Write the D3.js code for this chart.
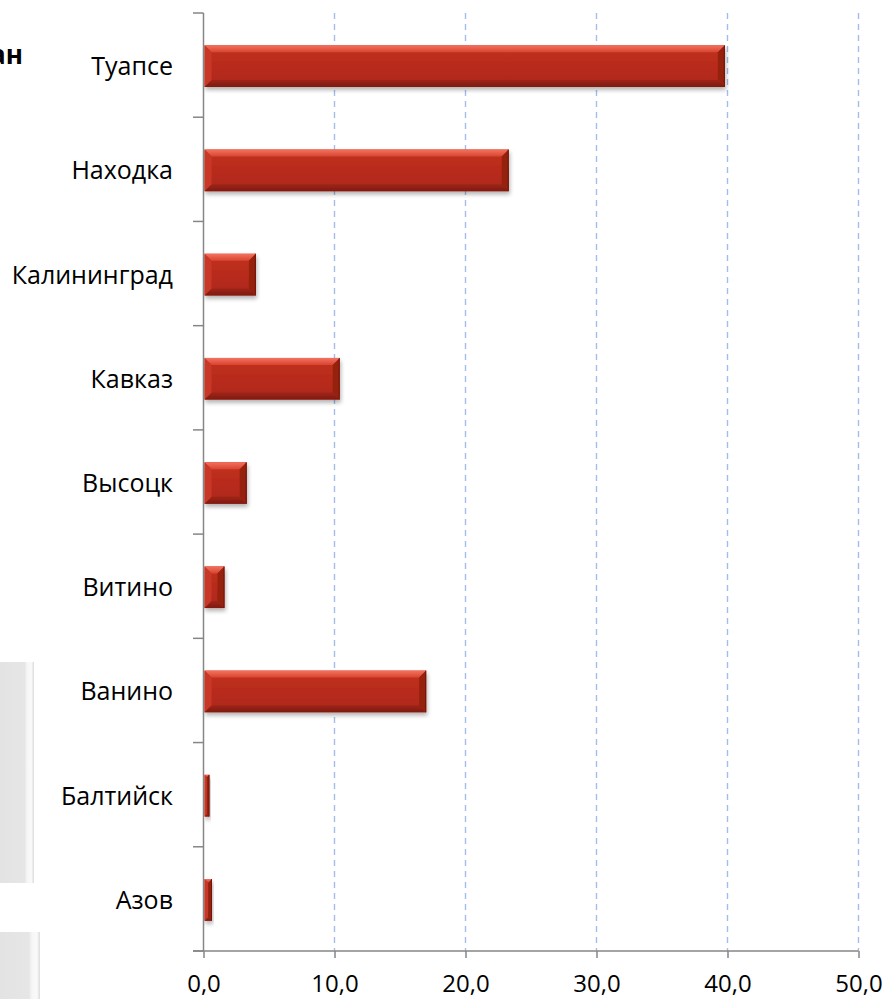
<!DOCTYPE html>
<html>
<head>
<meta charset="utf-8">
<script src="https://cdn.jsdelivr.net/npm/d3@7"></script>
<style>
  html, body { margin: 0; padding: 0; background: #fff; }
  svg { display: block; }
  text { font-family: "Open Sans", "Noto Sans", sans-serif; fill: #000; }
</style>
</head>
<body>
<svg id="chart" width="884" height="999"></svg>
<script>
// Ports, top to bottom
const categories = ["Туапсе", "Находка", "Калининград", "Кавказ", "Высоцк", "Витино", "Ванино", "Балтийск", "Азов"];
const values = [39.8, 23.3, 4.0, 10.4, 3.3, 1.6, 17.0, 0.45, 0.65];
const xTicks = [0, 10, 20, 30, 40, 50];

const svg = d3.select("#chart");

const x = d3.scaleLinear().domain([0, 50]).range([203.5, 858.5]);
const y = d3.scaleBand().domain(categories).range([13, 951]).paddingInner(0.6).paddingOuter(0.3);

const defs = svg.append("defs");

// Bar face gradient
const g = defs.append("linearGradient").attr("id", "face").attr("x1", 0).attr("y1", 0).attr("x2", 0).attr("y2", 1);
g.append("stop").attr("offset", "0%").attr("stop-color", "#c2321f");
g.append("stop").attr("offset", "50%").attr("stop-color", "#b82b1c");
g.append("stop").attr("offset", "100%").attr("stop-color", "#ad2719");

const gt = defs.append("linearGradient").attr("id", "topBevel").attr("x1", 0).attr("y1", 0).attr("x2", 0).attr("y2", 1);
gt.append("stop").attr("offset", "0%").attr("stop-color", "#f47260");
gt.append("stop").attr("offset", "100%").attr("stop-color", "#d84530");

const gb = defs.append("linearGradient").attr("id", "botBevel").attr("x1", 0).attr("y1", 0).attr("x2", 0).attr("y2", 1);
gb.append("stop").attr("offset", "0%").attr("stop-color", "#9f2416");
gb.append("stop").attr("offset", "100%").attr("stop-color", "#7e1a10");

const shadow = defs.append("filter").attr("id", "shadow").attr("x", "-10%").attr("y", "-20%").attr("width", "130%").attr("height", "160%");
shadow.append("feGaussianBlur").attr("in", "SourceAlpha").attr("stdDeviation", 2.2);
shadow.append("feOffset").attr("dx", 1).attr("dy", 3).attr("result", "off");
shadow.append("feComponentTransfer").append("feFuncA").attr("type", "linear").attr("slope", 0.3);
const merge = shadow.append("feMerge");
merge.append("feMergeNode");
merge.append("feMergeNode").attr("in", "SourceGraphic");

// Decorative side panels at the left edge
const panels = [
  { x: 0, y: 662, w: 34, h: 221 },
  { x: 0, y: 932, w: 40, h: 80 }
];
const pg = defs.append("linearGradient").attr("id", "panel").attr("x1", 0).attr("y1", 0).attr("x2", 1).attr("y2", 0);
pg.append("stop").attr("offset", "0%").attr("stop-color", "#e3e3e3");
pg.append("stop").attr("offset", "72%").attr("stop-color", "#e6e6e6");
pg.append("stop").attr("offset", "80%").attr("stop-color", "#f6f6f6");
pg.append("stop").attr("offset", "92%").attr("stop-color", "#fafafa");
pg.append("stop").attr("offset", "100%").attr("stop-color", "#dcdcdc");
svg.append("g").selectAll("rect").data(panels).join("rect")
  .attr("x", d => d.x).attr("y", d => d.y).attr("width", d => d.w).attr("height", d => d.h)
  .attr("fill", "url(#panel)");

// Tail of a heading that runs off the left edge
svg.append("text").attr("x", 23).attr("y", 64).attr("text-anchor", "end")
  .attr("font-size", 26).attr("font-weight", "bold").text("ан");

// Dashed vertical gridlines
svg.append("g").selectAll("line").data(xTicks.filter(d => d > 0)).join("line")
  .attr("x1", d => x(d)).attr("x2", d => x(d))
  .attr("y1", 13).attr("y2", 951)
  .attr("stroke", "#a3bde8").attr("stroke-width", 1.4)
  .attr("stroke-dasharray", "6,5");

// Bars with bevelled edges
const bars = svg.append("g").selectAll("g").data(categories).join("g").attr("filter", "url(#shadow)");
bars.each(function (c, i) {
  const sel = d3.select(this);
  const x0 = x(0) + 1, x1 = x(values[i]);
  const y0 = y(c) + 1, y1 = y(c) + y.bandwidth() + 1;
  const b = Math.min(7, (x1 - x0) / 2, (y1 - y0) / 2);
  sel.append("rect").attr("x", x0).attr("y", y0).attr("width", x1 - x0).attr("height", y1 - y0).attr("fill", "url(#face)");
  const poly = (pts, fill) => sel.append("polygon").attr("points", pts.map(p => p.join(",")).join(" ")).attr("fill", fill);
  poly([[x0, y0], [x1, y0], [x1 - b, y0 + b], [x0 + b, y0 + b]], "url(#topBevel)");
  poly([[x0, y1], [x1, y1], [x1 - b, y1 - b], [x0 + b, y1 - b]], "url(#botBevel)");
  poly([[x0, y0], [x0 + b, y0 + b], [x0 + b, y1 - b], [x0, y1]], "#c93726");
  poly([[x1, y0], [x1 - b, y0 + b], [x1 - b, y1 - b], [x1, y1]], "#95200f");
  sel.append("line").attr("x1", x1 - 0.5).attr("x2", x1 - 0.5).attr("y1", y0).attr("y2", y1)
    .attr("stroke", "#5a120a").attr("stroke-width", 1).attr("stroke-opacity", 0.6);
});

// Category axis: line, boundary ticks and labels
const axisColor = "#868686";
const step = y.step();
const first = y(categories[0]) - step * y.paddingInner() / 2;
const bounds = d3.range(categories.length + 1).map(i => first + i * step);
svg.append("line").attr("x1", x(0)).attr("x2", x(0)).attr("y1", bounds[0]).attr("y2", 951)
  .attr("stroke", axisColor).attr("stroke-width", 1.5);
svg.append("g").selectAll("line").data(bounds).join("line")
  .attr("x1", 193).attr("x2", x(0)).attr("y1", d => d).attr("y2", d => d)
  .attr("stroke", axisColor).attr("stroke-width", 1.5);
svg.append("g").selectAll("text").data(categories).join("text")
  .attr("x", 173).attr("y", d => y(d) + y.bandwidth() / 2 + 1)
  .attr("dy", "0.36em").attr("text-anchor", "end").attr("font-size", 25).text(d => d);

// Value axis
const xAxis = d3.axisBottom(x).tickValues(xTicks).tickSize(7).tickPadding(17)
  .tickFormat(d => d3.format(".1f")(d).replace(".", ","));
const ax = svg.append("g").attr("transform", "translate(0,951)").call(xAxis);
ax.select(".domain").remove();
ax.selectAll(".tick line").attr("stroke", axisColor).attr("stroke-width", 1.5);
ax.selectAll(".tick text").attr("font-size", 24).attr("fill", "#000").attr("font-family", "\"Open Sans\", sans-serif");
svg.append("line").attr("x1", 193).attr("x2", x(50)).attr("y1", 951).attr("y2", 951)
  .attr("stroke", axisColor).attr("stroke-width", 1.5);
</script>
</body>
</html>
